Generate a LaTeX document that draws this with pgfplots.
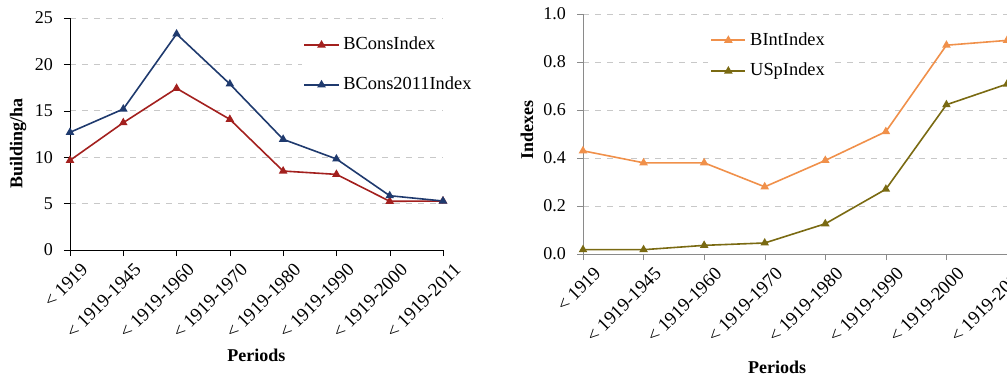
\documentclass[border=0pt]{standalone}
\usepackage{pgfplots}
\pgfplotsset{compat=1.18}
\usepackage{fontspec}
\setmainfont{Liberation Serif}
\definecolor{cred}{HTML}{A3201E}
\definecolor{cblue}{HTML}{1F3A6E}
\definecolor{corange}{HTML}{F0904A}
\definecolor{colive}{HTML}{7A6A12}
\definecolor{gridgray}{HTML}{C8C8C8}
\definecolor{axgray}{HTML}{8A8A8A}
\pgfplotsset{
  common/.style={
    scale only axis,
    xmin=0, xmax=7,
    xtick={0,...,7},
    xticklabels={{< 1919},{< 1919-1945},{< 1919-1960},{< 1919-1970},{< 1919-1980},{< 1919-1990},{< 1919-2000},{< 1919-2011}},
    xticklabel style={rotate=45, anchor=north east, inner sep=1pt, yshift=-4.5pt, xshift=2.5pt, font=\fontsize{9.4}{11}\selectfont},
    yticklabel style={font=\fontsize{9}{10}\selectfont, xshift=-2pt},
    axis x line*=bottom, axis y line*=left,
    tick align=outside,
    major tick length=3pt,
    ymajorgrids,
    grid style={dashed, gridgray, line width=0.5pt},
    label style={font=\fontsize{9}{10}\selectfont\bfseries},
    legend style={draw=none, fill=white, font=\fontsize{9.2}{10}\selectfont, row sep=5pt, inner sep=1pt},
    legend cell align=left,
    /pgf/number format/assume math mode=true,
    every axis plot/.append style={line width=0.8pt, mark=triangle*, mark size=1.7pt},
    clip=false,
  }
}
\begin{document}
\begin{tikzpicture}
\begin{axis}[common,
  at={(35pt,-125pt)}, anchor=south west,
  width=186.5pt, height=116pt,
  ymin=0, ymax=25, ytick={0,5,...,25},
  axis line style={black}, tick style={black},
  xlabel={Periods}, ylabel={Building/ha},
  xlabel style={at={(axis description cs:0.5,0)}, anchor=center, yshift=-52.5pt},
  ylabel style={at={([xshift=-26pt]axis description cs:0,0.46)}, anchor=center},
  legend style={at={(axis description cs:0.62,0.945)}, anchor=north west, row sep=8pt},
]
\addplot[cred, mark options={fill=cred}] coordinates {(0,9.66) (1,13.72) (2,17.42) (3,14.08) (4,8.51) (5,8.15) (6,5.25) (7,5.28)};
\addlegendentry{BConsIndex}
\addplot[cblue, mark options={fill=cblue}] coordinates {(0,12.68) (1,15.19) (2,23.28) (3,17.89) (4,11.93) (5,9.81) (6,5.85) (7,5.28)};
\addlegendentry{BCons2011Index}
\end{axis}
\begin{axis}[common,
  at={(291.5pt,-127pt)}, anchor=south west,
  width=212pt, height=120pt,
  ymin=0, ymax=1, ytick={0,0.2,...,1.0},
  yticklabel style={/pgf/number format/.cd, fixed, fixed zerofill, precision=1},
  axis line style={axgray}, tick style={axgray},
  xlabel={Periods}, ylabel={Indexes},
  xlabel style={at={(axis description cs:0.458,0)}, anchor=center, yshift=-56.5pt},
  ylabel style={at={([xshift=-28pt]axis description cs:0,0.517)}, anchor=center},
  legend style={at={(axis description cs:0.295,0.95)}, anchor=north west, row sep=3.5pt},
]
\addplot[corange, mark options={fill=corange}] coordinates {(0,0.43) (1,0.38) (2,0.38) (3,0.28) (4,0.39) (5,0.51) (6,0.87) (7,0.89)};
\addlegendentry{BIntIndex}
\addplot[colive, mark options={fill=colive}] coordinates {(0,0.018) (1,0.018) (2,0.036) (3,0.046) (4,0.126) (5,0.27) (6,0.622) (7,0.708)};
\addlegendentry{USpIndex}
\end{axis}
\pgfresetboundingbox
\path[use as bounding box] (0,0) rectangle (503.5pt,-188pt);
\end{tikzpicture}
\end{document}
